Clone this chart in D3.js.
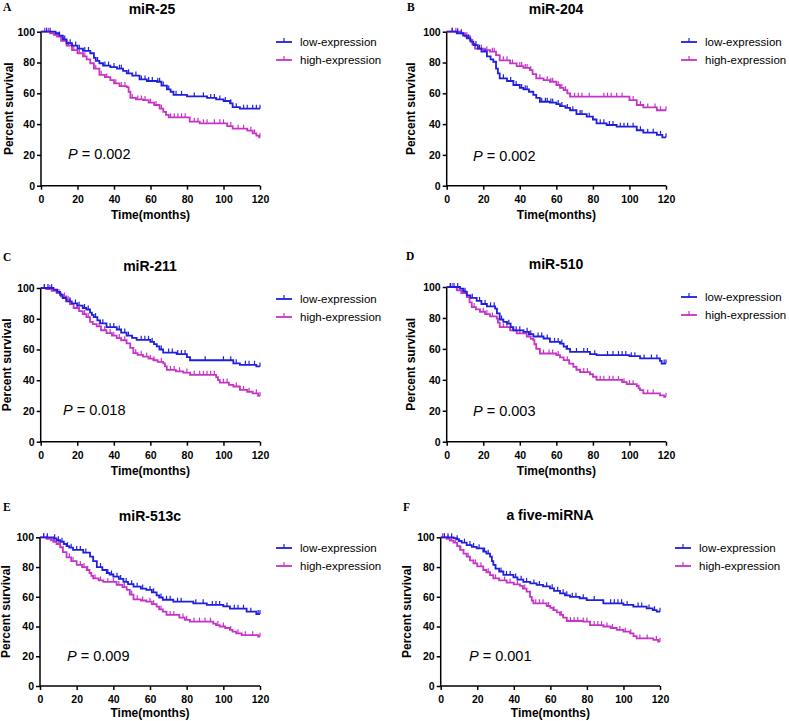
<!DOCTYPE html>
<html><head><meta charset="utf-8">
<script src="https://cdn.jsdelivr.net/npm/d3@7"></script>
<style>
html,body{margin:0;padding:0;background:#fff;}
svg{display:block;font-family:"Liberation Sans",Arial,sans-serif;}
</style></head>
<body><svg id="c" width="789" height="721"></svg>
<script>
// ---------------- DATA ----------------
const titles = ["miR-25","miR-204","miR-211","miR-510","miR-513c","a five-miRNA"];
const letters = ["A","B","C","D","E","F"];
const pValues = ["0.002","0.002","0.018","0.003","0.009","0.001"];
const seriesNames = ["low-expression","high-expression"];
const xTicks = [0,20,40,60,80,100,120];
const yTicks = [0,20,40,60,80,100];
const xLabel = "Time(months)";
const yLabel = "Percent survival";

// step data: [time, survival after the drop]
const lowA = [[8,99],[10,97.5],[12,95],[14,92.5],[17,91],[20,89],[23,87.5],[27,86],[29,83],[30,81],[32,79.5],[34,78],[38,77],[41.6,76],[45,74.5],[47,73],[50,71.5],[54,69],[58,68],[63.5,67.5],[66,65],[69,62.5],[71,61],[72.6,59],[80,58],[91,57],[96,56],[100,55],[103.6,53.5],[105,51],[109,50]];
const highA = [[5,99],[7,98],[8.8,96.8],[11,94],[14,91],[17,88],[20,86],[23,84],[25,82],[27,79.5],[29,76],[32,72],[35,70.5],[38,68.6],[40,66.5],[43,64.7],[47,64],[48,61],[49,57],[52,56],[56,55.6],[59,54],[62,52.4],[65,50],[67,48],[68.5,46],[70,44.4],[81.5,41.6],[87,40.5],[102,38.7],[105,37],[113,35.7],[116,34],[118,32.5],[119.5,31.4]];
const lowB = [[5.5,99],[9,97.5],[11,95.7],[13,93.5],[14.6,91.3],[17,89],[19,87],[22,84],[24,82],[25.5,80.5],[27,76],[28,73],[29,69.7],[33,68],[36.5,65.4],[40,63.5],[42,62.5],[45,61],[47.4,59],[49,57],[51,54.5],[56.5,54],[60,53],[62,51.7],[65,50.5],[67.5,49],[71,46.5],[76.6,44.8],[80,43],[82,40.5],[87.5,39.4],[93,38.3],[104,36],[107.6,34.4],[115,33],[118,31.4]];
const highB = [[8,99],[10,97],[12.8,94.6],[14,92],[15.5,89],[20,88],[23.7,87],[27,84.8],[29,81.4],[34.7,79.4],[38.3,77.7],[42,76.5],[45.6,75],[47,72.5],[49,69.7],[53,68.5],[56.5,67.5],[60,65.4],[62,63.5],[64,62],[66,60],[67.5,57.8],[100,55.6],[104,52.4],[107.6,50.8],[115,49]];
const lowC = [[7,99],[9,97.5],[10.6,95.6],[12,93.5],[14,91.3],[17,90],[20,88.5],[23,87],[25,86],[27,84],[28,82.5],[29,81],[31,79],[32.5,77],[36,74.6],[41.6,73],[44,71],[47,69],[50,67.5],[52.5,66.3],[60,65],[62,63.5],[63.5,62],[65,60],[67,58],[74.4,57],[80,55],[81.7,53],[105.4,51],[109,50],[118,49]];
const highC = [[3,99.3],[6,98.2],[8.7,96.7],[11,94.5],[14,92.4],[16,89.5],[18,87],[21,85],[23,83],[25,81],[27,78],[28.5,76.5],[30.6,75],[33,72.5],[36,70.7],[39,69],[41.6,67.4],[44,66],[47,64],[49,61],[50.7,57.6],[53,56.5],[56,55.4],[59,54],[61.7,53],[64,52],[67,51],[68,49],[69,46.7],[74,45.8],[78,45],[81.7,43.5],[96,42],[97,40],[98,38.5],[103,37],[105.4,35.9],[109,33.7],[113,32.5],[116,31.5],[119,29.8]];
const lowD = [[7.3,99],[9,97],[11,94.6],[13,93],[16.4,91],[19,89],[22,87.5],[26.5,86],[27.5,83],[29,79],[31,77.5],[33,76.3],[35,74],[36.5,72],[42,71],[45,69.5],[47.4,68],[53,66.7],[56.5,64.5],[62,63.4],[64,61.5],[65.6,60],[67.5,58],[78.4,56.6],[82,56],[100,55.3],[105.8,53.8],[116.7,52.3],[117.6,50.5]];
const highD = [[5.5,97.8],[8,96],[11,93.5],[12.5,90],[13.7,87],[16,85.5],[18.2,84],[21,82.5],[23.7,81],[27.4,79.6],[28,77],[29,74],[34.7,72],[38.3,70],[43.8,68],[46,66.5],[47.4,65.6],[48,63],[49,60],[51,57],[60,56],[62,54.5],[64,52.7],[67,50.5],[69.3,48.4],[71,46.5],[73,45],[78.4,43.6],[80,42],[82,40],[96,38.5],[98.5,37.2],[104,36],[105,34.5],[105.8,33.3],[107.6,31.2],[116.7,30],[119,29]];
const lowE = [[7.3,99.3],[9,98],[11,97],[13,95.5],[14.5,94],[16,93],[18,91.5],[23.6,89.7],[27.3,87],[29,84],[31,80],[34,78],[36.4,76],[38,75],[40,73.5],[43,72],[45.5,70],[48,68.5],[51,66.8],[55,65.5],[58,64.6],[61,63],[63.6,61],[65,59.5],[67,58],[72.7,56.7],[83.6,55.6],[91,54.5],[100,53.5],[103.6,52],[112.7,50],[118,48.4]];
const highE = [[3.6,99],[6,98],[7.3,97],[9,95.5],[11,93.3],[12.5,90],[14.5,86.5],[17,84],[20,81.4],[23,80],[25.5,78],[27,76],[28,74],[29,72.4],[32,71],[34.5,70],[41.8,68],[45,66.5],[47.3,64.6],[49,61.5],[51,58.3],[55,57.5],[58,56.7],[61,55],[63.6,53.4],[65,51.5],[67,50],[69,47.8],[76,46],[79,44.5],[81.8,43.3],[94.5,42],[96,41],[98,40],[101,39],[103.6,37.7],[105,36.5],[107,35.4],[110,34.2],[119,33.2]];
const lowF = [[7,99.5],[8.8,98.7],[10,97.5],[11.5,96.4],[14.2,94.8],[17,93.5],[19.7,92.6],[23.3,90.4],[25,89],[27,87],[28,84],[28.8,81.4],[30,79],[32,77],[34.3,74.7],[39.8,73],[42,71.5],[45.2,70],[49,69],[52.5,68],[56,67],[59.8,65.7],[62,64],[65.3,62.3],[68,61],[70.8,60],[76,59],[79.9,57.8],[89,55.6],[100,54.5],[105.4,53.4],[112.7,52.2],[116,51],[118.2,50]];
const highF = [[3.3,98.9],[5,97.8],[7,96.4],[9,94],[10.6,91.5],[12.5,89],[14.2,87],[16,84.5],[17.9,82.5],[20,80.5],[23.3,78],[25,76.5],[27,74.5],[28.8,72.4],[32,71],[36.1,69.5],[40,68.3],[43.4,67.3],[45,65.5],[47,63.5],[48.9,60],[49.8,57.5],[50.7,55.6],[58,53.8],[60,52.5],[61.6,51],[63.5,49.5],[65.3,47.8],[67,46],[69,43.7],[78,43.3],[81.7,41],[89,40],[93,39],[96.3,37.7],[100,36.5],[103.6,35.4],[105.5,33.5],[107.2,32],[116.4,31],[119,29.8]];

// censored times
const cLowA = [3,5,10,13,16,19,21,24,26,31,35,37,40,43,44,48,52,55,57,59,61,64,65,67,70,74,77,84,89,93,95,98,101,104,107,111,113,116,118,120];
const cHighA = [2,4,9,12,15,18,21,24,30,33,36,41,44,46,50,53,55,57,60,63,66,71,73,75,77,79,84,86,89,91,95,98,100,104,108,111,115,117,120];
const cLowB = [3,6,8,12,16,18,21,31,35,38,41,43,44,52,54,55,57,58,61,63,66,69,73,74,78,84,86,89,91,95,97,99,102,106,110,113,117,120];
const cHighB = [3,5,6,11,17,19,22,25,26,31,33,36,40,41,43,44,46,51,55,57,58,61,63,65,70,72,74,78,86,88,90,93,96,102,106,110,114,117,120];
const cLowC = [2,4,6,16,19,21,24,26,30,34,38,40,43,46,48,55,57,59,61,66,70,72,75,77,79,90,100,104,107,112,114,117,120];
const cHighC = [2,5,10,13,15,20,24,26,32,35,38,40,43,46,52,55,58,60,62,66,71,73,76,80,84,87,89,91,93,95,100,102,107,111,114,118,120];
const cLowD = [2,4,6,10,14,18,21,24,26,30,34,38,40,44,46,50,52,55,59,61,63,66,71,75,77,81,88,91,94,96,98,101,103,108,112,115,119,120];
const cHighD = [2,3,6,10,15,20,22,25,31,33,36,40,42,45,53,56,58,61,66,71,75,77,84,86,89,91,94,97,100,102,110,113,120];
const cLowE = [2,4,8,10,12,15,17,20,22,25,33,37,39,42,44,47,50,53,56,60,62,66,69,71,75,77,85,89,94,96,98,102,106,108,111,115,119,120];
const cHighE = [2,4,8,10,16,18,22,24,26,30,33,37,40,43,46,50,53,56,60,62,66,71,73,78,80,84,87,90,93,97,100,104,108,112,116,120];
const cLowF = [2,4,6,9,13,16,18,21,24,26,30,33,36,38,41,44,47,51,54,58,61,64,67,69,72,74,78,84,93,95,97,99,102,108,110,114,117,120];
const cHighF = [1,2,4,6,8,11,15,19,22,26,30,35,38,42,46,52,54,56,59,62,66,71,73,75,78,80,84,86,88,91,94,98,101,104,109,113,118,120];

const lowSeries = [lowA,lowB,lowC,lowD,lowE,lowF];
const highSeries = [highA,highB,highC,highD,highE,highF];
const lowCensor = [cLowA,cLowB,cLowC,cLowD,cLowE,cLowF];
const highCensor = [cHighA,cHighB,cHighC,cHighD,cHighE,cHighF];

// ---------------- LAYOUT ----------------
const colors = ["#1f1fdc","#c733c7"];
const layout = [
  {x0:41,  x1:260, yT:31.7, yB:185.7, tx:152, ty:14,    lx:3,   ly:10.5,  legX:276, legY:42,  px:68,  py:159, ylx:13,  xly:219},
  {x0:446.7,x1:666,yT:31.7, yB:185.7, tx:556, ty:14,    lx:407, ly:10.5,  legX:681, legY:42,  px:473, py:161, ylx:415, xly:219},
  {x0:40.7,x1:260, yT:288,  yB:441.7, tx:150, ty:270.5, lx:3,   ly:260.5, legX:276, legY:299, px:63,  py:415, ylx:11,  xly:474.5},
  {x0:446.7,x1:666,yT:287,  yB:441.7, tx:556, ty:269,   lx:406, ly:260,   legX:681, legY:297, px:473, py:416, ylx:415, xly:474.5},
  {x0:40,  x1:260, yT:537.3,yB:686,   tx:150, ty:520.5, lx:3,   ly:510.5, legX:276, legY:548, px:67,  py:661, ylx:10,  xly:717},
  {x0:440.7,x1:660,yT:537.3,yB:686,   tx:550, ty:520,   lx:403, ly:510.5, legX:675, legY:548, px:469, py:661, ylx:411, xly:717}
];

const svg = d3.select("#c");

function stepPath(steps, x, y){
  let d = "M" + x(0) + "," + y(100);
  steps.forEach(([t,s])=>{ d += "H" + x(t) + "V" + y(s); });
  d += "H" + x(120);
  return d;
}
function survAt(steps, t){
  let s = 100;
  for (const [tt,ss] of steps){ if (tt <= t) s = ss; else break; }
  return s;
}

layout.forEach((L,i)=>{
  const g = svg.append("g");
  const x = d3.scaleLinear().domain([0,120]).range([L.x0,L.x1]);
  const y = d3.scaleLinear().domain([0,100]).range([L.yB,L.yT]);

  const xa = g.append("g").attr("transform",`translate(0,${L.yB})`)
    .call(d3.axisBottom(x).tickValues(xTicks).tickSize(4).tickSizeOuter(0));
  const ya = g.append("g").attr("transform",`translate(${L.x0},0)`)
    .call(d3.axisLeft(y).tickValues(yTicks).tickSize(4).tickSizeOuter(0));
  [xa,ya].forEach(a=>{
    a.selectAll("path,line").attr("stroke","#000").attr("stroke-width",1.5);
    a.selectAll("text").attr("font-family","Liberation Sans, Arial, sans-serif")
      .attr("font-size","10.5px").attr("font-weight","bold").attr("fill","#000");
  });
  xa.selectAll("text").attr("dy","0").attr("y",17);
  ya.selectAll("text").attr("x",-6);
  xa.select(".domain").attr("d",`M${L.x0},0H${L.x1}`);
  ya.select(".domain").attr("d",`M0,${L.yB+0.75}V${L.yT}`);

  g.append("text").attr("x",(L.x0+L.x1)/2).attr("y",L.xly).attr("text-anchor","middle")
    .attr("font-size","12px").attr("font-weight","bold").text(xLabel);
  g.append("text").attr("transform",`translate(${L.ylx},${(L.yT+L.yB)/2}) rotate(-90)`)
    .attr("text-anchor","middle").attr("font-size","12px").attr("font-weight","bold").text(yLabel);
  g.append("text").attr("x",L.tx).attr("y",L.ty).attr("text-anchor","middle")
    .attr("font-size","14px").attr("font-weight","bold").text(titles[i]);
  g.append("text").attr("x",L.lx).attr("y",L.ly).attr("font-family","Liberation Serif, Times New Roman, serif")
    .attr("font-size","11.5px").attr("font-weight","bold").text(letters[i]);
  const pt = g.append("text").attr("x",L.px).attr("y",L.py).attr("font-size","14.5px");
  pt.append("tspan").attr("font-style","italic").text("P");
  pt.append("tspan").text(" = " + pValues[i]);

  [[highSeries[i],highCensor[i],colors[1]],[lowSeries[i],lowCensor[i],colors[0]]].forEach(([st,cs,col])=>{
    g.append("path").attr("d",stepPath(st,x,y)).attr("fill","none")
      .attr("stroke",col).attr("stroke-width",1.8);
    g.selectAll(null).data(cs).enter().append("line")
      .attr("x1",d=>x(d)).attr("x2",d=>x(d))
      .attr("y1",d=>y(survAt(st,d))).attr("y2",d=>y(survAt(st,d))-4)
      .attr("stroke",col).attr("stroke-width",1.2);
  });

  seriesNames.forEach((nm,k)=>{
    const yy = L.legY + k*18;
    g.append("line").attr("x1",L.legX).attr("x2",L.legX+16).attr("y1",yy).attr("y2",yy)
      .attr("stroke",colors[k]).attr("stroke-width",1.8);
    g.append("line").attr("x1",L.legX+8).attr("x2",L.legX+8).attr("y1",yy).attr("y2",yy-4)
      .attr("stroke",colors[k]).attr("stroke-width",1.2);
    g.append("text").attr("x",L.legX+24).attr("y",yy+4).attr("font-size","11.5px").text(nm);
  });
});
</script></body></html>
